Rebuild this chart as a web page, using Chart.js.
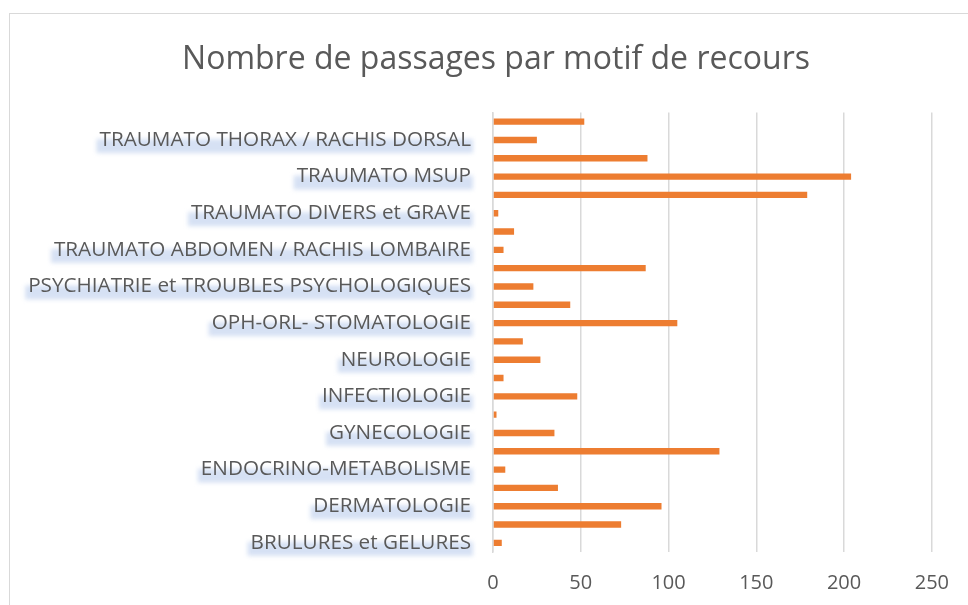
<!DOCTYPE html>
<html>
<head>
<meta charset="utf-8">
<script src="https://cdn.jsdelivr.net/npm/chart.js@4.4.1/dist/chart.umd.min.js"></script>
<style>
  html, body { margin: 0; padding: 0; background: #fff; }
  #wrap { position: relative; width: 968px; height: 605px; overflow: hidden; }
  #frame { position: absolute; left: 9px; top: 13px; width: 1200px; height: 1200px; border: 1.5px solid #d9d9d9; }
  #c { position: absolute; left: 0; top: 0; }
</style>
</head>
<body>
<div id="wrap">
  <div id="frame"></div>
  <canvas id="c" width="968" height="605"></canvas>
</div>
<script>
// categories, bottom to top (Excel order); only every other label is shown
const motifs = [
  'BRULURES et GELURES', 'CARDIO-VASCULAIRE', 'DERMATOLOGIE', 'DIGESTIF',
  'ENDOCRINO-METABOLISME', 'GENERAL et AUTRES', 'GYNECOLOGIE', 'HEMATOLOGIE',
  'INFECTIOLOGIE', 'INTOXICATION', 'NEUROLOGIE', 'NEPHRO-UROLOGIE',
  'OPH-ORL- STOMATOLOGIE', 'PNEUMOLOGIE', 'PSYCHIATRIE et TROUBLES PSYCHOLOGIQUES', 'RHUMATOLOGIE',
  'TRAUMATO ABDOMEN / RACHIS LOMBAIRE', 'TRAUMATO CRANE / FACE', 'TRAUMATO DIVERS et GRAVE', 'TRAUMATO MINF',
  'TRAUMATO MSUP', 'TRAUMATO TETE et COU', 'TRAUMATO THORAX / RACHIS DORSAL', 'UROLOGIE'
];
const passages = [5, 73, 96, 37, 7, 129, 35, 2, 48, 6, 27, 17, 105, 44, 23, 87, 6, 12, 3, 179, 204, 88, 25, 52];
const xTicks = [0, 50, 100, 150, 200, 250];
const titre = 'Nombre de passages par motif de recours';

const labelSize = 20.7;
const labelFont = labelSize + 'px "Open Sans"';

// light blue glow under the category labels, like the Excel text shadow
const labelGlow = {
  id: 'labelGlow',
  beforeDraw(chart) {
    const ctx = chart.ctx;
    const y = chart.scales.y;
    const right = chart.chartArea.left - 22;
    ctx.save();
    ctx.font = labelFont;
    ctx.filter = 'blur(2px)';
    ctx.fillStyle = 'rgba(212,223,243,0.95)';
    motifs.forEach((m, i) => {
      if (i % 2) return;
      const w = ctx.measureText(m).width;
      const py = y.getPixelForValue(i);
      ctx.fillRect(right - w - 3, py - 1, w + 5, 14);
    });
    ctx.restore();
  }
};

// title centred on the whole Excel chart frame, not on the canvas box
const titrePlugin = {
  id: 'titre',
  afterDraw(chart) {
    const ctx = chart.ctx;
    ctx.save();
    ctx.font = '32px "Open Sans"';
    ctx.fillStyle = '#595959';
    ctx.textAlign = 'center';
    ctx.textBaseline = 'alphabetic';
    ctx.fillText(titre, 496, 68.5);
    ctx.restore();
  }
};

new Chart(document.getElementById('c'), {
  type: 'bar',
  data: {
    labels: motifs,
    datasets: [{
      data: passages,
      backgroundColor: '#ED7D31',
      barPercentage: 0.35,
      categoryPercentage: 1
    }]
  },
  plugins: [labelGlow, titrePlugin],
  options: {
    indexAxis: 'y',
    responsive: false,
    animation: false,
    layout: { padding: { left: 0, right: 32, top: 112.5, bottom: 11 } },
    plugins: {
      legend: { display: false },
      tooltip: { enabled: false },
      title: { display: false }
    },
    scales: {
      x: {
        min: 0, max: 250,
        afterBuildTicks(s) { s.ticks = xTicks.map(v => ({ value: v })); },
        afterFit(s) { s.height = 42; },
        grid: { color: '#d9d9d9', lineWidth: 1.5, drawTicks: false },
        border: { display: false },
        ticks: { color: '#595959', font: { family: '"Open Sans"', size: 20 }, padding: 19 }
      },
      y: {
        reverse: true,
        afterFit(s) { s.width = 493; },
        grid: { display: false, drawTicks: false },
        border: { display: true, color: '#d9d9d9', width: 1.5 },
        ticks: {
          autoSkip: false,
          color: '#595959',
          font: { family: '"Open Sans"', size: labelSize },
          padding: 22,
          callback: (v, i) => (i % 2 === 0 ? motifs[i] : '')
        }
      }
    }
  }
});
</script>
</body>
</html>
